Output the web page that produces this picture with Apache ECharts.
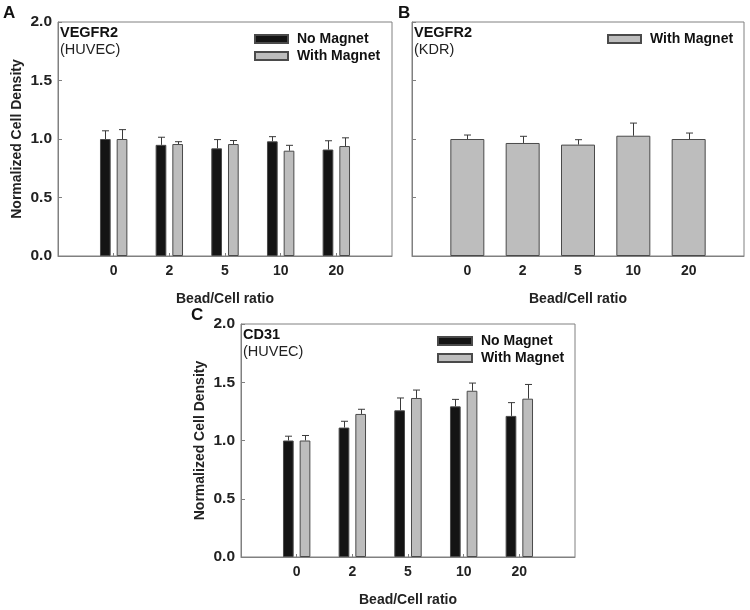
<!DOCTYPE html>
<html><head><meta charset="utf-8">
<script src="https://cdn.jsdelivr.net/npm/echarts@6/dist/echarts.min.js"></script>
<style>html,body{margin:0;padding:0;background:#fff}#c{width:750px;height:610px}</style>
</head><body><div id="c"></div>
<script>
var categories = ['0', '2', '5', '10', '20'];
var yTicks = [0, 0.5, 1.0, 1.5, 2.0];
// Panel A (VEGFR2, HUVEC)
var aNoMagnet    = [1.00, 0.95, 0.92, 0.98, 0.91];
var aNoMagnetErr = [0.07, 0.065, 0.075, 0.04, 0.075];
var aWithMagnet    = [1.00, 0.957, 0.957, 0.90, 0.94];
var aWithMagnetErr = [0.08, 0.02, 0.03, 0.046, 0.07];
// Panel B (VEGFR2, KDR)
var bWithMagnet    = [1.00, 0.966, 0.952, 1.028, 1.00];
var bWithMagnetErr = [0.034, 0.057, 0.042, 0.108, 0.051];
// Panel C (CD31, HUVEC)
var cNoMagnet    = [1.00, 1.111, 1.259, 1.293, 1.211];
var cNoMagnetErr = [0.037, 0.054, 0.106, 0.060, 0.114];
var cWithMagnet    = [1.00, 1.228, 1.365, 1.427, 1.359];
var cWithMagnetErr = [0.043, 0.040, 0.068, 0.066, 0.122];

var FONT = "'Liberation Sans', Arial, sans-serif";
var BLACK = '#141414', GREY = '#bdbdbd', EDGE = '#4a4a4a', FRAME = '#808080';

function pts(vals) { return vals.map(function (v, i) { return [i + 1, v]; }); }
function errPts(vals, errs) { return vals.map(function (v, i) { return [i + 1, v, errs[i]]; }); }

function errRender(offset) {
  return function (params, api) {
    var x = api.value(0), v = api.value(1), e = api.value(2);
    var p0 = api.coord([x, v]), p1 = api.coord([x, v + e]);
    var cx = Math.round(p0[0] + offset) + 0.5;
    var st = { stroke: '#3a3a3a', lineWidth: 1 };
    return { type: 'group', children: [
      { type: 'line', shape: { x1: cx, y1: p0[1], x2: cx, y2: p1[1] }, style: st },
      { type: 'line', shape: { x1: cx - 3.5, y1: p1[1], x2: cx + 3.5, y2: p1[1] }, style: st }
    ]};
  };
}

function xAxis(gi) {
  return {
    type: 'value', gridIndex: gi, min: 0, max: 6, interval: 1,
    name: 'Bead/Cell ratio', nameLocation: 'middle', nameGap: 36,
    nameTextStyle: { fontFamily: FONT, fontWeight: 'bold', fontSize: 14, color: '#222' },
    axisLine: { lineStyle: { color: FRAME, width: 1 } },
    axisTick: { inside: true, length: 3, lineStyle: { color: FRAME }, customValues: [1, 2, 3, 4, 5] },
    axisLabel: { customValues: [1, 2, 3, 4, 5], margin: 8, fontFamily: FONT, fontWeight: 'bold', fontSize: 14, color: '#222',
      formatter: function (v) { return categories[v - 1] || ''; } },
    splitLine: { show: false }
  };
}
function yAxis(gi, showLabels) {
  return {
    type: 'value', gridIndex: gi, min: 0, max: 2, interval: 0.5,
    name: showLabels ? 'Normalized Cell Density' : '', nameLocation: 'middle', nameGap: 34,
    nameTextStyle: { fontFamily: FONT, fontWeight: 'bold', fontSize: 14, color: '#222' },
    axisLine: { show: true, lineStyle: { color: FRAME, width: 1 } },
    axisTick: { show: true, inside: true, length: 4, lineStyle: { color: FRAME } },
    axisLabel: { show: showLabels, margin: 6, fontFamily: FONT, fontWeight: 'bold', fontSize: 15.5, color: '#222',
      formatter: function (v) { return v.toFixed(1); } },
    splitLine: { show: false }
  };
}
function barSeries(name, gi, vals, color, width) {
  return { type: 'bar', name: name, xAxisIndex: gi, yAxisIndex: gi, data: pts(vals),
    barWidth: width, barGap: '56%',
    itemStyle: { color: color, borderColor: EDGE, borderWidth: 1 }, z: 2 };
}
function errSeries(gi, vals, errs, offset) {
  return { type: 'custom', xAxisIndex: gi, yAxisIndex: gi, data: errPts(vals, errs),
    renderItem: errRender(offset), encode: { x: 0, y: [1, 2] }, z: 3, silent: true };
}
var letterStyle = { fontFamily: FONT, fontWeight: 'bold', fontSize: 17, color: '#111' };
var labStyle = { fontFamily: FONT, fontWeight: 'bold', fontSize: 14.5, color: '#111' };
var subStyle = { fontFamily: FONT, fontSize: 14.5, color: '#222' };
var legText = { fontFamily: FONT, fontWeight: 'bold', fontSize: 14, color: '#111', lineHeight: 16, padding: [0, 0, 0, 4] };

var chart = echarts.init(document.getElementById('c'), null, { renderer: 'canvas' });
chart.setOption({
  animation: false,
  backgroundColor: '#fff',
  title: [
    { text: 'A', left: 3, top: 5, padding: 0, textStyle: letterStyle },
    { text: 'B', left: 398, top: 5, padding: 0, textStyle: letterStyle },
    { text: 'C', left: 191, top: 307, padding: 0, textStyle: letterStyle },
    { text: 'VEGFR2', subtext: '(HUVEC)', left: 60, top: 25, padding: 0, itemGap: 2, textStyle: labStyle, subtextStyle: subStyle },
    { text: 'VEGFR2', subtext: '(KDR)', left: 414, top: 25, padding: 0, itemGap: 2, textStyle: labStyle, subtextStyle: subStyle },
    { text: 'CD31', subtext: '(HUVEC)', left: 243, top: 327, padding: 0, itemGap: 2, textStyle: labStyle, subtextStyle: subStyle }
  ],
  legend: [
    { data: ['No Magnet', 'With Magnet'], orient: 'vertical', left: 254, top: 31, padding: 0, itemGap: 1, icon: 'rect',
      itemWidth: 33, itemHeight: 8, textStyle: legText, selectedMode: false },
    { data: ['With Magnet'], orient: 'vertical', left: 607, top: 31, padding: 0, itemGap: 1, icon: 'rect',
      itemWidth: 33, itemHeight: 8, textStyle: legText, selectedMode: false },
    { data: ['No Magnet', 'With Magnet'], orient: 'vertical', left: 437, top: 333, padding: 0, itemGap: 1, icon: 'rect',
      itemWidth: 34, itemHeight: 8, textStyle: legText, selectedMode: false }
  ],
  grid: [
    { left: 58, top: 22, width: 334, height: 234, show: true, borderColor: FRAME, borderWidth: 1, backgroundColor: 'transparent' },
    { left: 412, top: 22, width: 332, height: 234, show: true, borderColor: FRAME, borderWidth: 1, backgroundColor: 'transparent' },
    { left: 241, top: 324, width: 334, height: 233, show: true, borderColor: FRAME, borderWidth: 1, backgroundColor: 'transparent' }
  ],
  xAxis: [xAxis(0), xAxis(1), xAxis(2)],
  yAxis: [yAxis(0, true), yAxis(1, false), yAxis(2, true)],
  series: [
    barSeries('No Magnet', 0, aNoMagnet, BLACK, 10.7),
    barSeries('With Magnet', 0, aWithMagnet, GREY, 10.7),
    errSeries(0, aNoMagnet, aNoMagnetErr, -8.35),
    errSeries(0, aWithMagnet, aWithMagnetErr, 8.35),
    barSeries('With Magnet', 1, bWithMagnet, GREY, 34),
    errSeries(1, bWithMagnet, bWithMagnetErr, 0),
    barSeries('No Magnet', 2, cNoMagnet, BLACK, 10.7),
    barSeries('With Magnet', 2, cWithMagnet, GREY, 10.7),
    errSeries(2, cNoMagnet, cNoMagnetErr, -8.35),
    errSeries(2, cWithMagnet, cWithMagnetErr, 8.35)
  ]
});
</script></body></html>
